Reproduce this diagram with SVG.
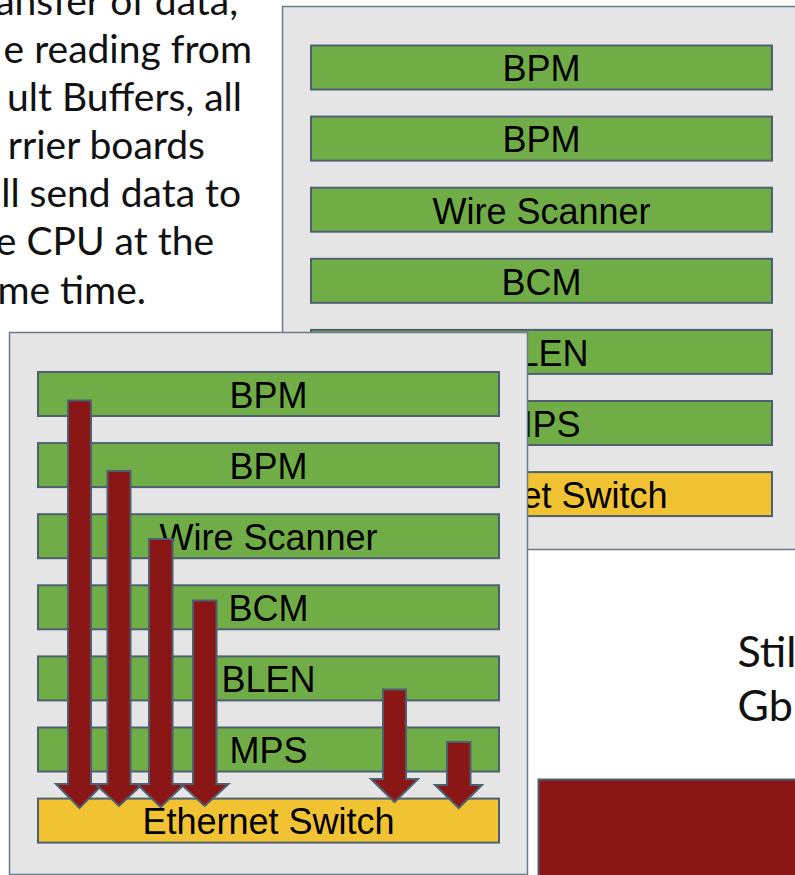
<svg xmlns="http://www.w3.org/2000/svg" width="795" height="875" viewBox="0 0 795 875">
  <style>
    .panel { fill: #e5e5e5; stroke: #6b7b8c; stroke-width: 1.5; }
    .card { fill: #70ad47; stroke: #4e5f70; stroke-width: 2; }
    .switch { fill: #f1c232; stroke: #4e5f70; stroke-width: 2; }
    .lbl { font-family: "Liberation Sans", Arial, sans-serif; font-size: 36px; fill: #000; text-anchor: middle; }
    .note { font-family: Lato, "Open Sans", sans-serif; font-size: 39px; fill: #111; text-anchor: end; }
    .note2 { font-family: Lato, "Open Sans", sans-serif; font-size: 43px; fill: #111; }
    .flow { fill: #8b1616; stroke: #4e5f70; stroke-width: 2; stroke-linejoin: miter; }
  </style>

  <rect width="795" height="875" fill="#ffffff"/>

  <!-- explanatory text, top left -->
  <g id="note-text">
    <text class="note" x="238" y="15">ansfer of data,</text>
    <text class="note" x="252" y="63">e reading from</text>
    <text class="note" x="242" y="111">ult Buffers, all</text>
    <text class="note" x="205" y="159">rrier boards</text>
    <text class="note" x="241" y="207">ll send data to</text>
    <text class="note" x="214" y="255">e CPU at the</text>
    <text class="note" x="146" y="304">me time.</text>
  </g>

  <!-- rear crate -->
  <g id="crate-rear">
    <rect class="panel" x="282.5" y="6.5" width="530" height="543"/>
    <g id="rear-bpm1"><rect class="card" x="311" y="45.5" width="461" height="44"/><text class="lbl" x="541.5" y="81.3">BPM</text></g>
    <g id="rear-bpm2"><rect class="card" x="311" y="116.6" width="461" height="44"/><text class="lbl" x="541.5" y="152.4">BPM</text></g>
    <g id="rear-ws"><rect class="card" x="311" y="187.7" width="461" height="44"/><text class="lbl" x="541.5" y="223.5">Wire Scanner</text></g>
    <g id="rear-bcm"><rect class="card" x="311" y="258.8" width="461" height="44"/><text class="lbl" x="541.5" y="294.6">BCM</text></g>
    <g id="rear-blen"><rect class="card" x="311" y="329.9" width="461" height="44"/><text class="lbl" x="541.5" y="365.7">BLEN</text></g>
    <g id="rear-mps"><rect class="card" x="311" y="401" width="461" height="44"/><text class="lbl" x="541.5" y="436.8">MPS</text></g>
    <g id="rear-eth"><rect class="switch" x="311" y="472.1" width="461" height="44"/><text class="lbl" x="541.5" y="507.9">Ethernet Switch</text></g>
  </g>

  <!-- front crate -->
  <g id="crate-front">
    <rect class="panel" x="9.5" y="332.5" width="518" height="542"/>
    <g id="front-bpm1"><rect class="card" x="38" y="372" width="461" height="44"/><text class="lbl" x="268.5" y="407.8">BPM</text></g>
    <g id="front-bpm2"><rect class="card" x="38" y="443.1" width="461" height="44"/><text class="lbl" x="268.5" y="478.9">BPM</text></g>
    <g id="front-ws"><rect class="card" x="38" y="514.2" width="461" height="44"/><text class="lbl" x="268.5" y="550">Wire Scanner</text></g>
    <g id="front-bcm"><rect class="card" x="38" y="585.3" width="461" height="44"/><text class="lbl" x="268.5" y="621.1">BCM</text></g>
    <g id="front-blen"><rect class="card" x="38" y="656.4" width="461" height="44"/><text class="lbl" x="268.5" y="692.2">BLEN</text></g>
    <g id="front-mps"><rect class="card" x="38" y="727.5" width="461" height="44"/><text class="lbl" x="268.5" y="763.3">MPS</text></g>
    <g id="front-eth"><rect class="switch" x="38" y="798.6" width="461" height="44"/><text class="lbl" x="268.5" y="834.4">Ethernet Switch</text></g>
  </g>

  <!-- data flows from each card into the switch -->
  <g id="connectors">
    <polygon class="flow" points="68,400.5 91,400.5 91,784 103,784 79.5,808 56,784 68,784"/>
    <polygon class="flow" points="107.5,471 130.5,471 130.5,784 142.5,784 119,806 95.5,784 107.5,784"/>
    <polygon class="flow" points="149,539 172.5,539 172.5,784 184.5,784 160.7,807 137,784 149,784"/>
    <polygon class="flow" points="193,600.5 216.5,600.5 216.5,784 228.5,784 204.7,806 181,784 193,784"/>
    <polygon class="flow" points="383,689.5 406,689.5 406,779 418,779 394.5,802 371,779 383,779"/>
    <polygon class="flow" points="447,742 470.5,742 470.5,785 482,785 458.7,808 435,785 447,785"/>
  </g>

  <!-- right-hand caption and block -->
  <g id="caption">
    <text class="note2" x="737.5" y="667">Stil</text>
    <text class="note2" x="737.5" y="721">Gb</text>
  </g>
  <g id="red-block">
    <rect x="538.5" y="779.5" width="280" height="110" fill="#8b1616" stroke="#4e5f70" stroke-width="2"/>
  </g>
</svg>
